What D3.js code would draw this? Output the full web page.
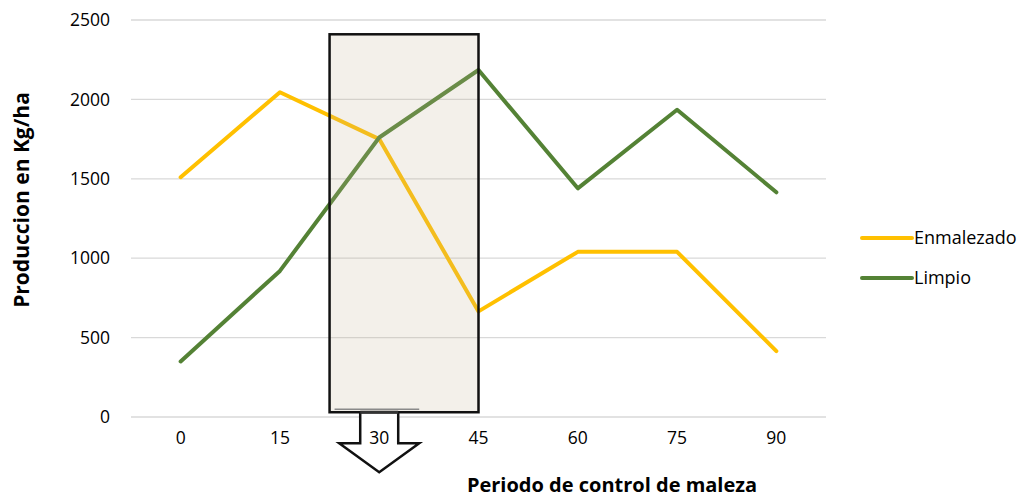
<!DOCTYPE html>
<html>
<head>
<meta charset="utf-8">
<style>
  body { margin: 0; background: #fff; font-family: "Open Sans", sans-serif; }
  .tick text { font-size: 17.5px; fill: #000; font-family: "Open Sans", sans-serif; }
</style>
</head>
<body>
<svg id="chart"></svg>
<script src="https://cdn.jsdelivr.net/npm/d3@7"></script>
<script>
// data
var periods = ["0", "15", "30", "45", "60", "75", "90"];
var enmalezado = [1510, 2045, 1750, 665, 1040, 1040, 415];
var limpio = [350, 920, 1760, 2185, 1440, 1935, 1415];
var yTicks = [0, 500, 1000, 1500, 2000, 2500];
var seriesNames = ["Enmalezado", "Limpio"];
var seriesColors = ["#ffc000", "#548235"];

var W = 1031, H = 499;
var margin = {top: 20, right: 205, bottom: 82, left: 131};

var svg = d3.select("#chart").attr("width", W).attr("height", H);

var x = d3.scaleBand().domain(periods).range([margin.left, W - margin.right]);
var y = d3.scaleLinear().domain([0, 2500]).range([H - margin.bottom, margin.top]);
var cx = d => x(d) + x.bandwidth() / 2;

// gridlines
svg.append("g")
  .selectAll("line")
  .data(yTicks)
  .enter().append("line")
    .attr("x1", margin.left).attr("x2", W - margin.right)
    .attr("y1", d => y(d)).attr("y2", d => y(d))
    .attr("stroke", "#d9d9d9").attr("stroke-width", 1.3);

var yaxis = svg.append("g")
  .attr("transform", "translate(" + (margin.left - 21) + ",0)")
  .call(d3.axisLeft(y).tickValues(yTicks).tickFormat(d3.format("d")).tickSize(0).tickPadding(0));
yaxis.select(".domain").remove();

var series = [enmalezado, limpio];
var line = d3.line()
  .x((d, i) => cx(periods[i]))
  .y(d => y(d));

series.forEach(function(s, k) {
  svg.append("path")
    .datum(s)
    .attr("d", line)
    .attr("fill", "none")
    .attr("stroke", seriesColors[k])
    .attr("stroke-width", 4)
    .attr("stroke-linejoin", "round")
    .attr("stroke-linecap", "round");
});

// highlighted window between 15 and 45
var bx0 = (cx("15") + cx("30")) / 2, bx1 = cx("45");
var by0 = y(2410), by1 = y(30);
svg.append("rect")
  .attr("x", bx0).attr("y", by0)
  .attr("width", bx1 - bx0).attr("height", by1 - by0)
  .attr("fill", "#c3b496").attr("fill-opacity", 0.2)
  .attr("stroke", "#111").attr("stroke-width", 2.5);
svg.append("line")
  .attr("x1", bx0 + 5).attr("x2", cx("30") + 40)
  .attr("y1", by1 - 3).attr("y2", by1 - 3)
  .attr("stroke", "#8a8a8a").attr("stroke-width", 1.5);

// down arrow under 30
var ax = cx("30"), ay = by1;
var arrow = [[ax - 19, ay], [ax + 19, ay], [ax + 19, ay + 31], [ax + 40, ay + 31],
             [ax, ay + 60], [ax - 40, ay + 31], [ax - 19, ay + 31]];
svg.append("path")
  .attr("d", "M" + arrow.join("L") + "Z")
  .attr("fill", "#fff").attr("stroke", "#111").attr("stroke-width", 2.5)
  .attr("stroke-linejoin", "miter");
svg.append("line")
  .attr("x1", ax - 19).attr("x2", ax + 19)
  .attr("y1", ay).attr("y2", ay)
  .attr("stroke", "#333").attr("stroke-width", 3);

var xaxis = svg.append("g")
  .attr("transform", "translate(0," + (y(0) + 15) + ")")
  .call(d3.axisBottom(x).tickSize(0).tickPadding(0));
xaxis.select(".domain").remove();
xaxis.selectAll("text").attr("dy", "0.71em");

// axis titles
svg.append("text")
  .text("Produccion en Kg/ha")
  .attr("transform", "translate(29,200) rotate(-90)")
  .attr("text-anchor", "middle")
  .attr("font-size", 21).attr("font-weight", "bold");
svg.append("text")
  .text("Periodo de control de maleza")
  .attr("x", 612).attr("y", 492)
  .attr("text-anchor", "middle")
  .attr("font-size", 20).attr("font-weight", "bold");

// legend
var lg = svg.append("g").attr("transform", "translate(862,238)");
seriesNames.forEach(function(n, k) {
  var g = lg.append("g").attr("transform", "translate(0," + (k * 40) + ")");
  g.append("line").attr("x1", 0).attr("x2", 50)
    .attr("stroke", seriesColors[k]).attr("stroke-width", 4).attr("stroke-linecap", "round");
  g.append("text").text(n).attr("x", 52).attr("dy", "0.35em").attr("font-size", 18);
});
</script>
</body>
</html>
